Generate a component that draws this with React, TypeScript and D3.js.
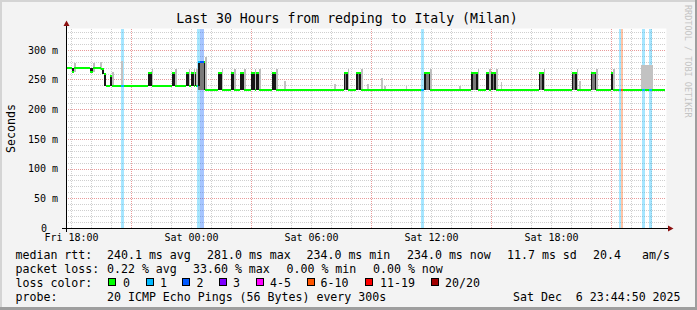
import React from "react";
import * as d3 from "d3";

// ---------------- data ----------------
const START = "Fri 17:44:50";
const END = "Sat 23:44:50";
const LINE_END = "Sat 23:40";

// median rtt base level changes [time, ms]
const baseLevels: [string, number][] = [
  ["Fri 17:44", 271],
  ["Fri 19:29", 268],
  ["Fri 19:37", 260],
  ["Fri 19:44", 240],
  ["Sat 00:42", 234],
];

// short excursions of the median [start, end, ms]
const pulses: [string, string, number][] = [
  ["Fri 18:01", "Fri 18:09", 263],
  ["Fri 18:57", "Fri 19:06", 264],
  ["Fri 19:55", "Fri 20:03", 256],
  ["Fri 21:51", "Fri 22:01", 261],
  ["Fri 23:01", "Fri 23:11", 261],
  ["Fri 23:45", "Fri 23:52", 261],
  ["Fri 23:59", "Sat 00:07", 261],
  ["Sat 00:10", "Sat 00:15", 261],
  ["Sat 00:20", "Sat 00:42", 281],
  ["Sat 01:21", "Sat 01:31", 261],
  ["Sat 01:58", "Sat 02:08", 261],
  ["Sat 02:27", "Sat 02:38", 261],
  ["Sat 03:00", "Sat 03:10", 261],
  ["Sat 03:14", "Sat 03:24", 261],
  ["Sat 04:02", "Sat 04:14", 261],
  ["Sat 07:37", "Sat 07:49", 261],
  ["Sat 08:14", "Sat 08:29", 261],
  ["Sat 11:39", "Sat 11:57", 261],
  ["Sat 14:00", "Sat 14:19", 261],
  ["Sat 14:44", "Sat 14:54", 261],
  ["Sat 14:59", "Sat 15:14", 261],
  ["Sat 17:22", "Sat 17:37", 261],
  ["Sat 19:01", "Sat 19:16", 261],
  ["Sat 19:58", "Sat 20:15", 261],
  ["Sat 20:58", "Sat 21:05", 261],
];

// isolated smoke (ping spread) [start, end, lo ms, hi ms]
const smokeSpikes: [string, string, number, number][] = [
  ["Fri 19:27", "Fri 19:32", 266, 280],
  ["Fri 20:30", "Fri 20:36", 240, 282],
  ["Sat 04:38", "Sat 04:43", 234, 248],
  ["Sat 07:08", "Sat 07:13", 234, 243],
  ["Sat 08:48", "Sat 08:53", 234, 243],
  ["Sat 09:30", "Sat 09:35", 234, 254],
  ["Sat 09:38", "Sat 09:43", 234, 240],
  ["Sat 10:43", "Sat 10:48", 234, 240],
  ["Sat 13:23", "Sat 13:28", 234, 240],
  ["Sat 15:28", "Sat 15:33", 234, 246],
  ["Sat 19:23", "Sat 19:28", 234, 248],
  ["Sat 22:29", "Sat 23:04", 234, 275],
];

// packet loss events [start, end, lost pings of 20]
const lossEvents: [string, string, number][] = [
  ["Fri 20:30", "Fri 20:38", 1],
  ["Sat 00:17", "Sat 00:27", 1],
  ["Sat 00:27", "Sat 00:37", 2],
  ["Sat 11:29", "Sat 11:37", 1],
  ["Sat 21:24", "Sat 21:29", 1],
  ["Sat 21:29", "Sat 21:34", 7],
  ["Sat 22:32", "Sat 22:42", 1],
  ["Sat 22:54", "Sat 23:02", 1],
];

const xTickLabels = ["Fri 18:00", "Sat 00:00", "Sat 06:00", "Sat 12:00", "Sat 18:00"];
const yTickValues = [0, 50, 100, 150, 200, 250, 300];
const yTickLabels = ["0", "50 m", "100 m", "150 m", "200 m", "250 m", "300 m"];

const lossColorLabels = ["0", "1", "2", "3", "4-5", "6-10", "11-19", "20/20"];
const lossColors = ["#00ff00", "#00b8ff", "#0059ff", "#7e00ff", "#ff00ff", "#ff5500", "#ff0000", "#a10000"];

const title = "Last 30 Hours from redping to Italy (Milan)";
const rttStats = ["240.1 ms avg", "281.0 ms max", "234.0 ms min", "234.0 ms now", "11.7 ms sd", "20.4", "am/s"];
const lossStats = ["0.22 % avg", "33.60 % max", "0.00 % min", "0.00 % now"];
const probeText = "20 ICMP Echo Pings (56 Bytes) every 300s";
const stampText = "Sat Dec\u00a0\u00a06 23:44:50 2025";

// ---------------- layout ----------------
const W = 697;
const H = 310;
const P = { left: 66.44, right: 666.44, top: 28.5, bottom: 228.5 };
const FONT = "'DejaVu Sans Mono', monospace";
const STEP = 5; // minutes

function tmin(s: string): number {
  const [d, hm] = s.split(" ");
  const p = hm.split(":").map(Number);
  return (d === "Sat" ? 1440 : 0) + p[0] * 60 + p[1] + (p[2] || 0) / 60;
}

const x = d3.scaleLinear().domain([tmin(START), tmin(END)]).range([P.left, P.right]);
const y = d3.scaleLinear().domain([0, 336.7]).range([P.bottom, P.top]);
const crisp = (v: number) => Math.round(v - 0.5) + 0.5;

function baseAt(t: number) {
  let v = baseLevels[0][1];
  for (const [s, val] of baseLevels) if (tmin(s) <= t) v = val;
  return v;
}
function valueAt(t: number) {
  for (const [s, e, v] of pulses) if (t >= tmin(s) && t < tmin(e)) return v;
  return baseAt(t);
}
function lossColor(n: number) {
  if (n <= 0) return lossColors[0];
  if (n === 1) return lossColors[1];
  if (n === 2) return lossColors[2];
  if (n === 3) return lossColors[3];
  if (n <= 5) return lossColors[4];
  if (n <= 10) return lossColors[5];
  if (n <= 19) return lossColors[6];
  return lossColors[7];
}

function buildSegments() {
  const t0 = tmin(START);
  const t1 = tmin(LINE_END);
  const cuts = Array.from(
    new Set<number>([
      t0,
      t1,
      ...baseLevels.map((b) => tmin(b[0])),
      ...pulses.flatMap((p) => [tmin(p[0]), tmin(p[1])]),
    ])
  )
    .filter((t) => t >= t0 && t <= t1)
    .sort((a, b) => a - b);
  const segs: { a: number; b: number; v: number }[] = [];
  for (let i = 0; i < cuts.length - 1; i++) {
    const a = cuts[i];
    const b = cuts[i + 1];
    const v = valueAt((a + b) / 2);
    const last = segs[segs.length - 1];
    if (last && last.v === v) last.b = b;
    else segs.push({ a, b, v });
  }
  return segs;
}

function Rect({ t0, t1, v0, v1, fill, opacity }: { t0: number; t1: number; v0: number; v1: number; fill: string; opacity?: number }) {
  const xa = x(t0);
  const xb = x(t1);
  const ya = y(Math.max(v0, v1));
  const yb = y(Math.min(v0, v1));
  return (
    <rect x={xa} y={ya} width={Math.max(xb - xa, 1)} height={Math.max(yb - ya, 1)} fill={fill} opacity={opacity} shapeRendering="crispEdges" />
  );
}

const pre = { whiteSpace: "pre" as const };

export default function App() {
  const segs = buildSegments();
  const tS = tmin(START);
  const tE = tmin(END);

  const minorY = d3.range(10, 337, 10).filter((v) => v % 50 !== 0);
  const majorY = yTickValues.filter((v) => v > 0);
  const firstHour = Math.ceil(tS / 60) * 60;
  const minorX = d3.range(firstHour, tE, 60);
  const majorX = minorX.filter((t) => ((t / 60) % 24) % 6 === 3);

  const pulseEnds = new Set(pulses.map((p) => tmin(p[1])));

  const rttX = [107, 207, 306.5, 407, 507, 593, 642];
  const lossX = [107, 193, 286.5, 373];
  const boxX = [108, 145.5, 182, 219, 255.5, 306.5, 365, 430.5];
  const boxLabelX = [123, 160, 196.5, 233, 270, 320.5, 380, 445];

  return (
    <svg
      width={W}
      height={H}
      style={{ position: "absolute", left: 0, top: 0, display: "block" }}
      fontFamily={FONT}
    >
      {/* frame */}
      <rect x={0} y={0} width={W} height={H} fill="#f3f3f3" />
      <rect x={0} y={0} width={W} height={2} fill="#d4d4d4" />
      <rect x={0} y={0} width={2} height={H} fill="#d4d4d4" />
      <rect x={0} y={H - 3} width={W} height={3} fill="#9e9e9e" />
      <rect x={W - 2} y={0} width={2} height={H} fill="#9e9e9e" />

      {/* canvas */}
      <rect x={P.left} y={P.top} width={P.right - P.left} height={P.bottom - P.top} fill="#ffffff" />

      {/* grid */}
      <g strokeWidth={1} strokeDasharray="1,1" shapeRendering="crispEdges">
        {minorY.map((v) => (
          <line key={"my" + v} x1={P.left} x2={P.right} y1={crisp(y(v))} y2={crisp(y(v))} stroke="#cfcfcf" />
        ))}
        {minorX.map((t) => (
          <line key={"mx" + t} x1={crisp(x(t))} x2={crisp(x(t))} y1={P.top} y2={P.bottom} stroke="#cfcfcf" />
        ))}
        {majorY.map((v) => (
          <line key={"My" + v} x1={P.left} x2={P.right} y1={crisp(y(v))} y2={crisp(y(v))} stroke="#e89a9a" />
        ))}
        {majorX.map((t) => (
          <line key={"Mx" + t} x1={crisp(x(t))} x2={crisp(x(t))} y1={P.top} y2={P.bottom} stroke="#e89a9a" />
        ))}
      </g>

      {/* loss background */}
      {lossEvents.map(([s, e, n], i) => (
        <rect
          key={"lb" + i}
          x={x(tmin(s))}
          y={P.top}
          width={x(tmin(e)) - x(tmin(s))}
          height={P.bottom - P.top}
          fill={lossColor(n)}
          opacity={0.35}
          shapeRendering="crispEdges"
        />
      ))}

      {/* smoke */}
      {smokeSpikes.map(([s, e, lo, hi], i) => (
        <Rect key={"sp" + i} t0={tmin(s)} t1={tmin(e)} v0={lo} v1={hi} fill="#c2c2c2" />
      ))}
      {pulses.map(([s, e, v], i) => {
        const ts = tmin(s);
        const te = tmin(e);
        const b1 = baseAt(ts - 0.01);
        const b2 = baseAt(te + 0.01);
        const lo = Math.min(v, b1, b2);
        const hi = Math.max(v, b1, b2);
        return (
          <g key={"pu" + i}>
            <Rect t0={te} t1={te + STEP} v0={Math.min(v, b2)} v1={hi + 8} fill="#bdbdbd" />
            <Rect t0={ts} t1={te} v0={lo} v1={hi} fill="#7a7a7a" />
            <Rect t0={ts} t1={ts + STEP} v0={Math.min(v, b1)} v1={Math.max(v, b1)} fill="#161616" />
            <Rect t0={te - STEP} t1={te} v0={Math.min(v, b2)} v1={Math.max(v, b2)} fill="#161616" />
          </g>
        );
      })}
      {baseLevels.slice(1).map(([s, v], i) => {
        const t = tmin(s);
        if (pulseEnds.has(t)) return null;
        const prev = baseLevels[i][1];
        return <Rect key={"bt" + i} t0={t - STEP} t1={t} v0={prev} v1={v} fill="#161616" />;
      })}

      {/* median line */}
      <g strokeWidth={2} shapeRendering="crispEdges">
        {segs.map((sg, i) => {
          const yy = Math.round(y(sg.v));
          return <line key={"ml" + i} x1={x(sg.a)} x2={x(sg.b)} y1={yy} y2={yy} stroke={lossColors[0]} />;
        })}
        {lossEvents.flatMap(([s, e, n], i) =>
          segs
            .filter((sg) => sg.b > tmin(s) && sg.a < tmin(e))
            .map((sg, j) => {
              const yy = Math.round(y(sg.v));
              return (
                <line
                  key={"ll" + i + "_" + j}
                  x1={x(Math.max(sg.a, tmin(s)))}
                  x2={x(Math.min(sg.b, tmin(e)))}
                  y1={yy}
                  y2={yy}
                  stroke={lossColor(n)}
                />
              );
            })
        )}
      </g>

      {/* axes */}
      <g shapeRendering="crispEdges" stroke="#000" strokeWidth={1}>
        <line x1={62} x2={669} y1={228.5} y2={228.5} />
        <line x1={66.5} x2={66.5} y1={232} y2={24} />
      </g>
      <path d="M668,225.5 L673.5,228.5 L668,231.5 Z" fill="#8b1010" />
      <path d="M63.5,26 L66.5,20.5 L69.5,26 Z" fill="#8b1010" />

      {/* axis labels */}
      <g fontSize={10} fill="#000">
        {xTickLabels.map((l) => (
          <text key={l} x={crisp(x(tmin(l)))} y={240.5} textAnchor="middle">
            {l}
          </text>
        ))}
        {yTickValues.map((v, i) => (
          <text key={"yl" + v} x={yTickLabels[i].includes(" ") ? 58 : 47} y={y(v) + 3.3} textAnchor="end">
            {yTickLabels[i]}
          </text>
        ))}
      </g>
      <text transform="translate(15,128.5) rotate(-90)" textAnchor="middle" fontSize={11.6} fill="#000">
        Seconds
      </text>

      {/* title */}
      <text x={347} y={22.5} textAnchor="middle" fontSize={13.2} fill="#000">
        {title}
      </text>

      {/* watermark */}
      <text transform="translate(685,5) rotate(90)" fontSize={8.5} fill="#c4c4c4">
        RRDTOOL / TOBI OETIKER
      </text>

      {/* legend */}
      <g fontSize={11.6} fill="#000">
        <text x={15.5} y={258.5} style={pre}>median rtt:</text>
        {rttStats.map((s, i) => (
          <text key={"r" + i} x={rttX[i]} y={258.5} style={pre}>
            {s}
          </text>
        ))}
        <text x={15.5} y={272.5} style={pre}>packet loss:</text>
        {lossStats.map((s, i) => (
          <text key={"p" + i} x={lossX[i]} y={272.5} style={pre}>
            {s}
          </text>
        ))}
        <text x={15.5} y={286.5} style={pre}>loss color:</text>
        {lossColorLabels.map((l, i) => (
          <g key={"lc" + i}>
            <rect x={boxX[i] + 0.5} y={278.5} width={7} height={7} fill={lossColors[i]} stroke="#000" strokeWidth={1} shapeRendering="crispEdges" />
            <text x={boxLabelX[i]} y={286.5} style={pre}>
              {l}
            </text>
          </g>
        ))}
        <text x={15.5} y={300.5} style={pre}>probe:</text>
        <text x={107} y={300.5} style={pre}>{probeText}</text>
        <text x={513} y={300.5} style={pre}>{stampText}</text>
      </g>
    </svg>
  );
}
